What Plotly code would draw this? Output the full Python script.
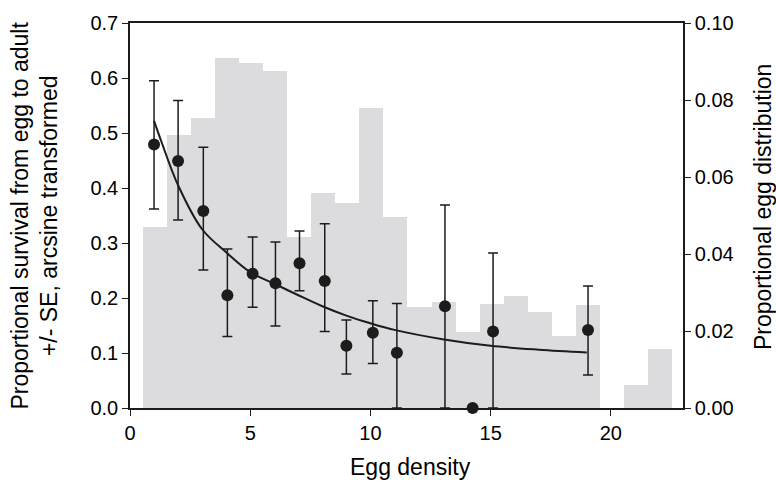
import plotly.graph_objects as go

# Histogram of egg distribution (right axis)
bin_density = list(range(1, 23))
egg_distribution = [0.047, 0.071, 0.0753, 0.0908, 0.0895, 0.0875, 0.0445, 0.0558,
                    0.0532, 0.078, 0.0496, 0.0263, 0.0275, 0.0198, 0.0271, 0.0292,
                    0.025, 0.0188, 0.0268, 0.0, 0.006, 0.0153]

# Survival points (left axis)
pt_density = [1.0, 2.0, 3.05, 4.05, 5.1, 6.05, 7.05, 8.1, 9.0, 10.1, 11.1, 13.1, 14.25, 15.1, 19.05]
survival = [0.479, 0.449, 0.358, 0.205, 0.244, 0.227, 0.263, 0.231, 0.113, 0.137, 0.1005, 0.185, 0.0, 0.139, 0.142]
se_upper = [0.595, 0.559, 0.474, 0.289, 0.311, 0.302, 0.322, 0.335, 0.160, 0.195, 0.190, 0.369, 0.0, 0.282, 0.222]
se_lower = [0.362, 0.342, 0.251, 0.130, 0.183, 0.149, 0.213, 0.139, 0.062, 0.081, 0.0, 0.0, 0.0, 0.0, 0.060]

# Fitted curve
curve_x = [1.0, 1.3, 2, 3, 4, 5, 6, 7, 8, 9, 10, 11, 13, 15, 17, 19]
curve_y = [0.522, 0.485, 0.405, 0.325, 0.283, 0.247, 0.226, 0.205, 0.185, 0.168, 0.154, 0.142, 0.125, 0.113, 0.106, 0.101]

x_ticks = [0, 5, 10, 15, 20]
left_ticks = [0.0, 0.1, 0.2, 0.3, 0.4, 0.5, 0.6, 0.7]
right_ticks = [0.0, 0.02, 0.04, 0.06, 0.08, 0.10]

err_plus = [u - s for u, s in zip(se_upper, survival)]
err_minus = [s - l for s, l in zip(survival, se_lower)]

INK = "#1c1c1c"
FONT = "Liberation Sans, Arial, sans-serif"

fig = go.Figure()
fig.add_trace(go.Bar(
    x=bin_density, y=egg_distribution, yaxis="y", width=1, offset=-0.46,
    marker=dict(color="#dcdcde", line=dict(width=0)), showlegend=False,
))
fig.add_trace(go.Scatter(
    x=curve_x, y=curve_y, yaxis="y2", mode="lines", line=dict(color=INK, width=2, shape="spline"),
    showlegend=False,
))
fig.add_trace(go.Scatter(
    x=pt_density, y=survival, yaxis="y2", mode="markers",
    marker=dict(color=INK, size=12),
    error_y=dict(type="data", symmetric=False, array=err_plus, arrayminus=err_minus,
                 color=INK, thickness=1.5, width=5),
    cliponaxis=False, showlegend=False,
))

fig.update_layout(
    width=776, height=485,
    margin=dict(l=130, r=93, t=23, b=77),
    paper_bgcolor="white", plot_bgcolor="white",
    font=dict(family=FONT, size=20, color="black"),
    bargap=0,
    xaxis=dict(range=[0, 23], tickvals=x_ticks, showline=True, linecolor=INK, linewidth=1.5,
               mirror=True, ticks="outside", ticklen=6, tickcolor=INK, showgrid=False, zeroline=False,
               tickfont=dict(size=20)),
    yaxis=dict(range=[0, 0.1], side="right", tickvals=right_ticks, tickformat=".2f",
               showline=True, linecolor=INK, linewidth=1.5, ticks="outside", ticklen=6,
               tickcolor=INK, showgrid=False, zeroline=False, tickfont=dict(size=20)),
    yaxis2=dict(range=[0, 0.7], side="left", overlaying="y", tickvals=left_ticks, tickformat=".1f",
                showline=True, linecolor=INK, linewidth=1.5, ticks="outside", ticklen=6,
                tickcolor=INK, showgrid=False, zeroline=False, tickfont=dict(size=20)),
    annotations=[
        dict(text="Proportional survival from egg to adult<br>+/- SE, arcsine transformed",
             xref="paper", yref="paper", x=-126/553, y=0.5, xanchor="left", yanchor="middle",
             textangle=-90, showarrow=False, font=dict(size=23), align="center"),
        dict(text="Proportional egg distribution", xref="paper", yref="paper",
             x=(763 - 130) / 553, y=(408 - 207) / 385, xanchor="center", yanchor="middle",
             textangle=-90, showarrow=False, font=dict(size=23)),
        dict(text="Egg density", xref="paper", yref="paper",
             x=(410 - 130) / 553, y=-(467 - 408) / 385, xanchor="center", yanchor="middle",
             showarrow=False, font=dict(size=23)),
    ],
)

fig.write_html("out.html", config={"displayModeBar": False},
               post_script="document.body.style.margin='0';document.body.style.overflow='hidden';")
